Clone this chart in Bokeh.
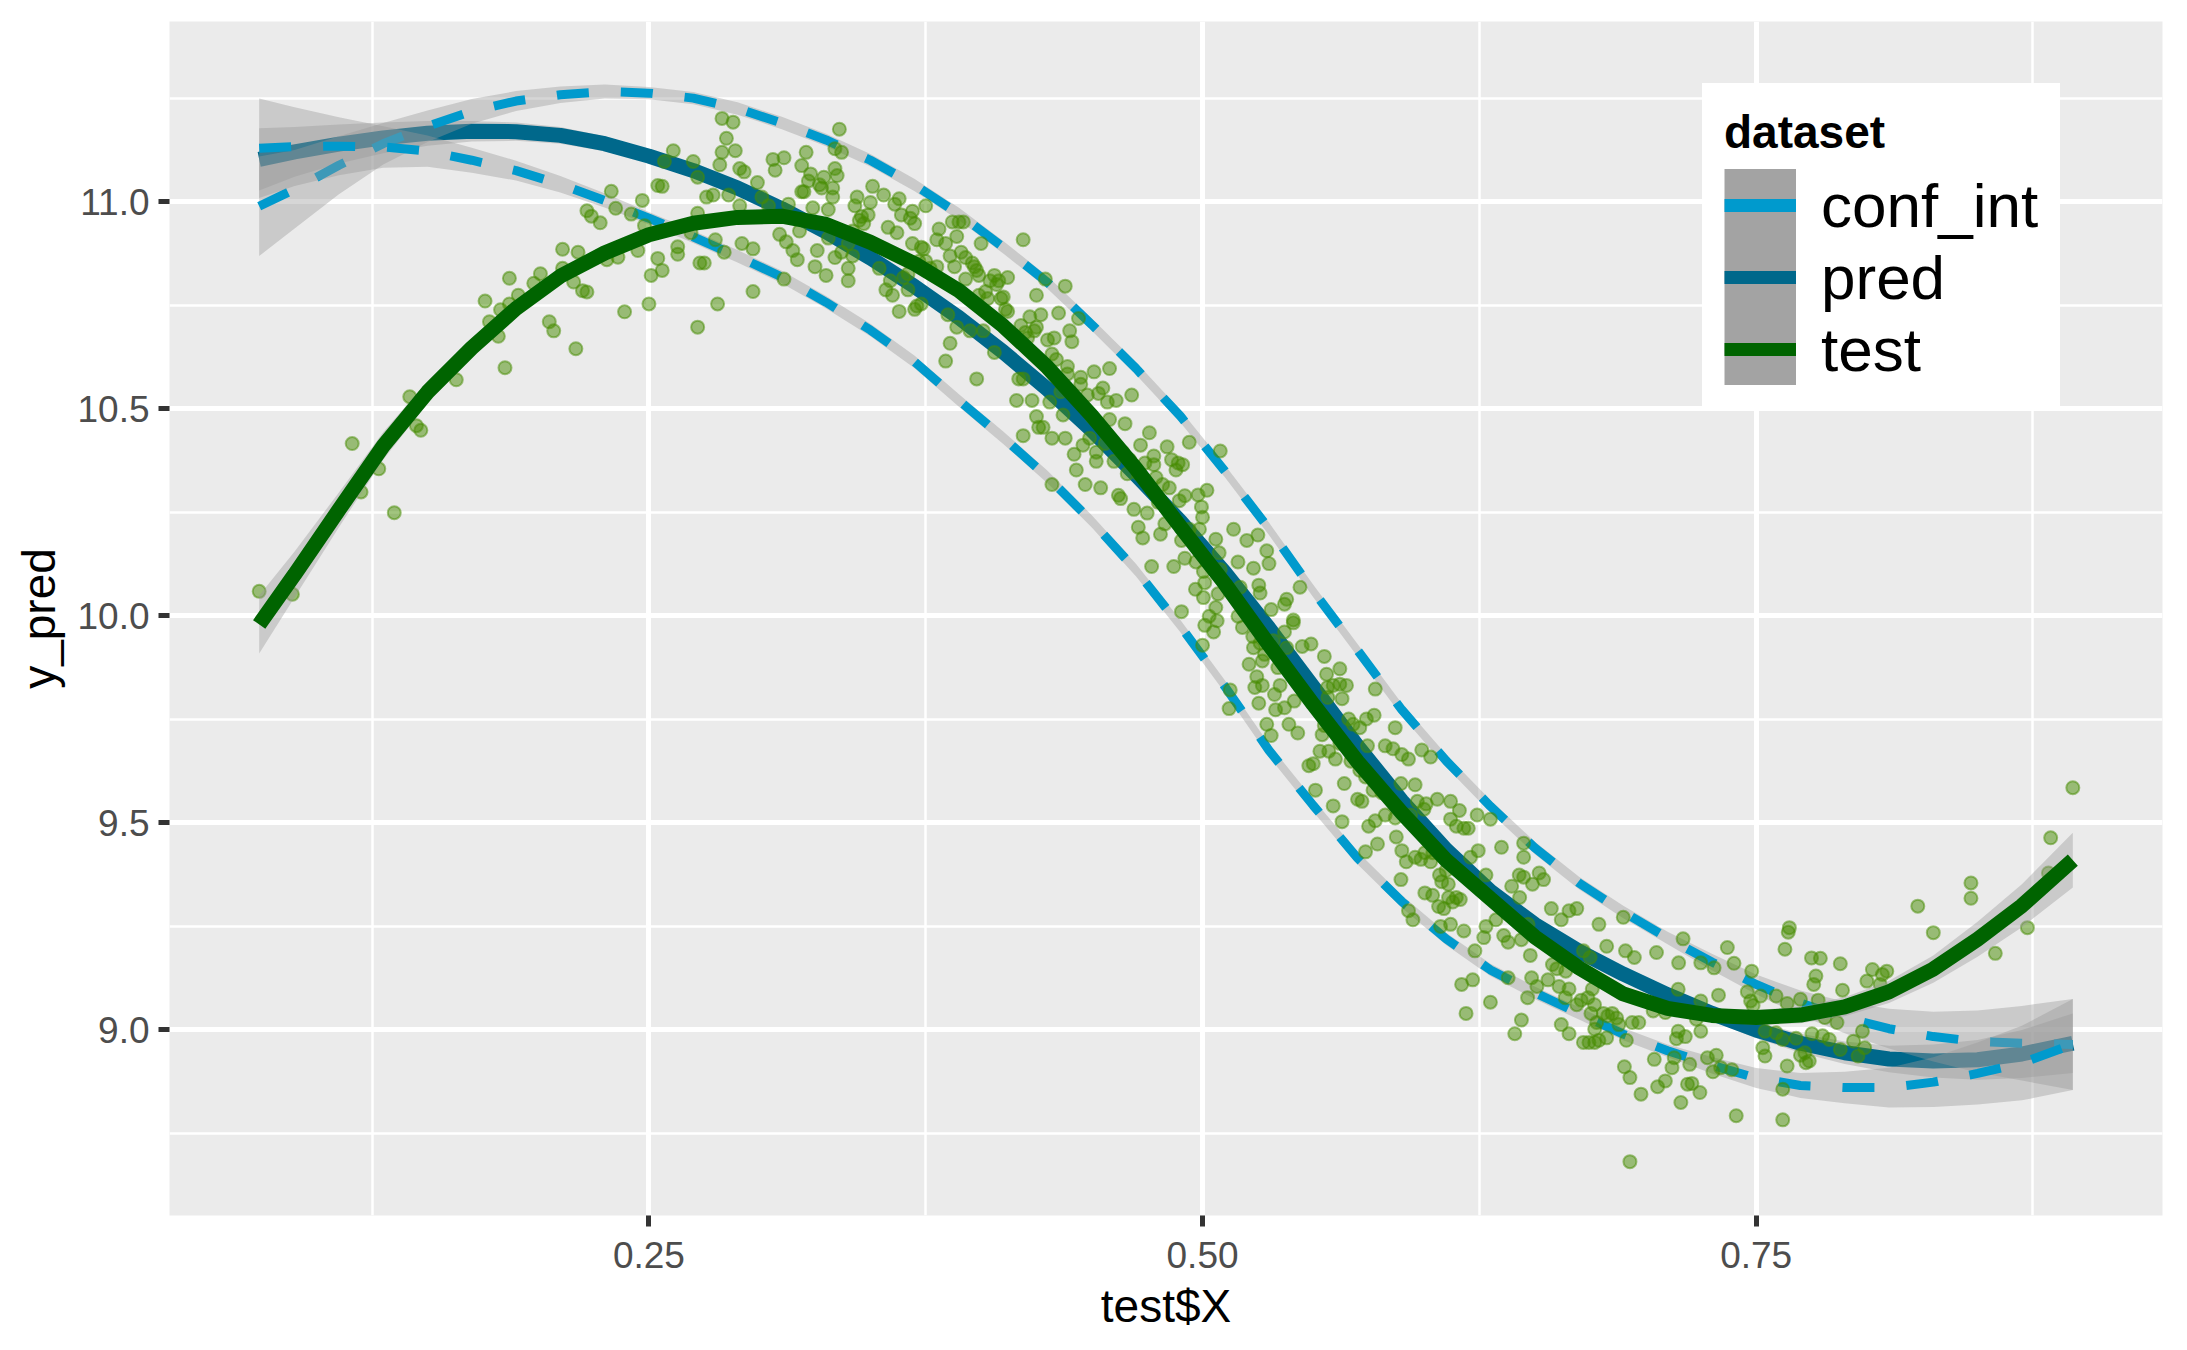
from bokeh.plotting import figure
from bokeh.models import Range1d, FixedTicker, NumeralTickFormatter, Legend, LegendItem
from bokeh.embed import file_html
from bokeh.resources import INLINE

# ---------------- data ----------------
grid_x = [0.074, 0.09, 0.11, 0.13, 0.15, 0.17, 0.19, 0.21, 0.23, 0.25, 0.27, 0.29, 0.31, 0.33,
          0.35, 0.37, 0.39, 0.41, 0.43, 0.45, 0.47, 0.49, 0.51, 0.53, 0.55, 0.57, 0.59, 0.61,
          0.63, 0.65, 0.67, 0.69, 0.71, 0.73, 0.75, 0.77, 0.79, 0.81, 0.83, 0.85, 0.87, 0.893]

test_fit = [9.979, 10.10, 10.256, 10.41, 10.54, 10.647, 10.742, 10.82, 10.876, 10.92, 10.948,
            10.962, 10.965, 10.945, 10.902, 10.85, 10.785, 10.70, 10.60, 10.483, 10.355, 10.215,
            10.078, 9.93, 9.786, 9.648, 9.524, 9.41, 9.317, 9.225, 9.15, 9.087, 9.052, 9.035,
            9.03, 9.036, 9.056, 9.092, 9.147, 9.219, 9.30, 9.41]

pred_fit = [11.102, 11.12, 11.139, 11.154, 11.165, 11.170, 11.169, 11.16, 11.14, 11.11, 11.075,
            11.033, 10.983, 10.927, 10.864, 10.795, 10.72, 10.637, 10.547, 10.448, 10.34, 10.228,
            10.105, 9.97, 9.828, 9.685, 9.553, 9.435, 9.335, 9.255, 9.19, 9.135, 9.085, 9.04,
            9.0, 8.968, 8.945, 8.93, 8.925, 8.928, 8.942, 8.968]

conf_upper = [10.989, 11.03, 11.088, 11.14, 11.182, 11.218, 11.243, 11.258, 11.266, 11.262, 11.25,
              11.225, 11.19, 11.149, 11.10, 11.04, 10.97, 10.89, 10.805, 10.703, 10.597, 10.482,
              10.35, 10.21, 10.06, 9.917, 9.773, 9.65, 9.54, 9.44, 9.355, 9.285, 9.222, 9.164,
              9.11, 9.065, 9.03, 9.003, 8.984, 8.972, 8.968, 8.965]

conf_lower = [11.129, 11.133, 11.134, 11.132, 11.122, 11.10, 11.075, 11.042, 11.003, 10.96, 10.915,
              10.868, 10.818, 10.757, 10.69, 10.613, 10.52, 10.43, 10.335, 10.228, 10.11, 9.975,
              9.83, 9.675, 9.542, 9.415, 9.31, 9.22, 9.145, 9.09, 9.04, 8.99, 8.95, 8.915,
              8.884, 8.866, 8.861, 8.861, 8.874, 8.895, 8.92, 8.965]

# half widths of the grey standard-error ribbons
test_se = [0.070, 0.055, 0.042, 0.033, 0.027, 0.023, 0.020, 0.018, 0.017] + [0.014] * 24 + \
          [0.016, 0.018, 0.020, 0.023, 0.027, 0.033, 0.042, 0.052, 0.066]
pred_se = [0.075, 0.060, 0.047, 0.037, 0.030, 0.025, 0.022, 0.020, 0.018] + [0.014] * 24 + \
          [0.018, 0.020, 0.023, 0.027, 0.032, 0.040, 0.048, 0.058, 0.072]
conf_se = [0.120, 0.095, 0.070, 0.050, 0.038, 0.030, 0.024, 0.020, 0.017] + [0.015] * 24 + \
          [0.020, 0.024, 0.030, 0.038, 0.048, 0.060, 0.075, 0.090, 0.110]

# observed test points (X, y)
test_points = [
    (0.074, 10.059), (0.089, 10.052), (0.116, 10.416), (0.120, 10.299), (0.128, 10.355), (0.135, 10.249),
    (0.142, 10.529), (0.145, 10.459), (0.147, 10.448), (0.163, 10.570), (0.176, 10.760), (0.178, 10.710),
    (0.182, 10.675), (0.183, 10.739), (0.185, 10.599), (0.187, 10.753), (0.187, 10.815), (0.191, 10.774),
    (0.198, 10.803), (0.201, 10.826), (0.205, 10.710), (0.207, 10.688), (0.211, 10.885), (0.211, 10.839),
    (0.216, 10.806), (0.217, 10.645), (0.218, 10.878), (0.220, 10.785), (0.222, 10.782), (0.222, 10.978),
    (0.224, 10.965), (0.228, 10.949), (0.231, 10.860), (0.233, 11.025), (0.235, 10.984), (0.236, 10.866),
    (0.239, 10.734), (0.242, 10.970),
    (0.247, 11.003), (0.248, 10.942), (0.245, 10.882), (0.250, 10.753), (0.251, 10.822), (0.254, 10.863),
    (0.254, 11.039), (0.256, 11.037), (0.256, 10.834), (0.257, 11.097), (0.261, 11.123), (0.263, 10.891),
    (0.263, 10.873), (0.269, 10.925), (0.270, 11.097), (0.272, 11.059), (0.272, 10.972), (0.272, 10.697),
    (0.273, 10.852), (0.275, 10.852), (0.276, 11.011), (0.279, 11.016), (0.280, 10.908), (0.281, 10.753),
    (0.282, 11.089), (0.283, 11.119), (0.283, 11.201), (0.284, 10.878), (0.285, 11.153), (0.286, 11.016),
    (0.288, 11.192), (0.289, 11.123), (0.291, 11.080), (0.291, 10.990), (0.293, 11.072), (0.292, 10.899),
    (0.297, 10.886), (0.297, 10.783), (0.299, 11.046), (0.301, 11.011), (0.304, 10.990), (0.306, 11.102),
    (0.307, 11.076), (0.309, 10.921), (0.311, 11.106), (0.311, 10.813), (0.312, 10.903), (0.313, 10.994),
    (0.315, 10.882), (0.317, 10.860), (0.318, 10.929), (0.319, 11.087), (0.319, 11.024), (0.320, 11.024),
    (0.321, 11.119), (0.322, 11.050), (0.323, 11.067), (0.324, 10.985), (0.325, 10.843), (0.326, 10.882),
    (0.327, 11.041), (0.328, 11.033), (0.329, 11.059), (0.330, 10.822), (0.331, 10.912), (0.331, 10.981),
    (0.333, 11.011), (0.333, 11.033), (0.334, 11.080), (0.334, 11.128), (0.334, 10.865), (0.335, 11.063),
    (0.336, 11.175), (0.337, 11.119), (0.337, 10.878), (0.340, 10.899), (0.340, 10.809), (0.340, 10.839),
    (0.342, 10.869), (0.342, 10.929), (0.343, 10.990), (0.344, 11.011), (0.345, 10.955), (0.346, 10.964),
    (0.347, 10.947), (0.349, 10.968), (0.350, 10.998), (0.351, 11.037), (0.354, 10.839), (0.356, 11.016),
    (0.357, 10.787), (0.358, 10.938), (0.359, 10.809), (0.360, 10.774), (0.361, 10.994), (0.362, 10.925),
    (0.363, 10.735), (0.363, 11.007), (0.364, 10.968), (0.365, 10.817), (0.367, 10.826), (0.367, 10.787),
    (0.368, 10.960), (0.369, 10.977), (0.369, 10.899), (0.370, 10.947), (0.370, 10.740), (0.371, 10.748),
    (0.372, 10.856), (0.373, 10.890), (0.373, 10.753), (0.374, 10.886), (0.375, 10.990), (0.375, 10.856),
    (0.377, 10.839), (0.380, 10.908), (0.380, 10.843), (0.381, 10.934), (0.384, 10.899), (0.384, 10.615),
    (0.385, 10.727), (0.386, 10.658), (0.386, 10.869), (0.387, 10.951), (0.388, 10.843), (0.389, 10.697),
    (0.389, 10.916), (0.390, 10.951), (0.391, 10.878), (0.392, 10.951), (0.393, 10.813), (0.393, 10.865),
    (0.395, 10.688), (0.396, 10.852), (0.397, 10.843), (0.398, 10.834), (0.398, 10.572), (0.399, 10.822),
    (0.399, 10.774), (0.400, 10.899), (0.401, 10.688), (0.402, 10.783), (0.403, 10.766), (0.404, 10.809),
    (0.406, 10.636), (0.406, 10.822), (0.407, 10.800), (0.408, 10.809), (0.409, 10.766), (0.410, 10.770),
    (0.411, 10.740), (0.412, 10.735), (0.412, 10.817), (0.416, 10.520), (0.417, 10.572), (0.418, 10.701),
    (0.419, 10.572), (0.419, 10.435), (0.419, 10.908), (0.420, 10.684), (0.421, 10.671), (0.422, 10.722),
    (0.423, 10.520), (0.424, 10.688), (0.425, 10.481), (0.425, 10.697), (0.425, 10.774), (0.426, 10.455),
    (0.427, 10.727), (0.428, 10.455), (0.429, 10.813), (0.430, 10.666), (0.431, 10.516), (0.432, 10.632),
    (0.432, 10.317), (0.432, 10.429), (0.433, 10.671), (0.434, 10.619), (0.435, 10.731), (0.436, 10.541),
    (0.437, 10.485), (0.438, 10.429), (0.438, 10.796), (0.439, 10.602), (0.439, 10.584), (0.440, 10.688),
    (0.441, 10.662), (0.442, 10.390), (0.443, 10.352), (0.444, 10.718), (0.445, 10.559), (0.445, 10.576),
    (0.446, 10.412), (0.447, 10.317), (0.448, 10.533), (0.449, 10.429), (0.450, 10.481), (0.451, 10.589),
    (0.452, 10.373), (0.452, 10.395), (0.453, 10.537), (0.454, 10.309), (0.455, 10.550), (0.456, 10.416),
    (0.457, 10.516), (0.458, 10.597), (0.458, 10.474), (0.460, 10.373), (0.461, 10.520), (0.462, 10.291),
    (0.463, 10.283), (0.464, 10.395), (0.465, 10.464), (0.466, 10.343), (0.467, 10.377), (0.468, 10.533),
    (0.469, 10.257), (0.471, 10.343), (0.471, 10.214), (0.472, 10.412), (0.473, 10.188), (0.474, 10.369),
    (0.475, 10.248), (0.476, 10.442), (0.477, 10.119), (0.478, 10.386), (0.478, 10.365), (0.479, 10.334),
    (0.480, 10.274), (0.481, 10.197), (0.482, 10.317), (0.483, 10.222), (0.484, 10.408), (0.485, 10.309),
    (0.486, 10.377), (0.487, 10.119), (0.488, 10.352), (0.489, 10.369), (0.4895, 10.278),
    (0.494, 10.419), (0.508, 10.398), (0.491, 10.365), (0.492, 10.290), (0.498, 10.292), (0.4995, 10.263),
    (0.502, 10.303), (0.500, 10.238), (0.494, 10.209), (0.514, 10.209), (0.4986, 10.209), (0.4905, 10.182),
    (0.506, 10.185), (0.520, 10.182), (0.525, 10.195), (0.492, 10.139), (0.497, 10.130), (0.5075, 10.152),
    (0.529, 10.157), (0.530, 10.126), (0.516, 10.130), (0.5004, 10.107), (0.508, 10.112), (0.523, 10.115),
    (0.501, 10.080), (0.517, 10.069), (0.5254, 10.074), (0.544, 10.069), (0.4968, 10.064), (0.507, 10.053),
    (0.526, 10.055), (0.538, 10.040), (0.5004, 10.044), (0.4905, 10.010), (0.506, 10.020), (0.531, 10.015),
    (0.537, 10.028), (0.503, 9.999), (0.516, 9.999), (0.541, 9.990), (0.501, 9.977), (0.5066, 9.988),
    (0.518, 9.972), (0.537, 9.961), (0.541, 9.983), (0.505, 9.961), (0.500, 9.929), (0.5227, 9.950),
    (0.526, 9.934), (0.532, 9.940), (0.545, 9.926), (0.549, 9.932), (0.523, 9.923), (0.528, 9.907),
    (0.538, 9.923), (0.521, 9.883), (0.527, 9.891), (0.534, 9.875), (0.555, 9.902), (0.5125, 9.821),
    (0.5245, 9.853), (0.527, 9.832), (0.535, 9.832), (0.556, 9.859), (0.5564, 9.827), (0.562, 9.872),
    (0.5236, 9.827), (0.5325, 9.810), (0.512, 9.776), (0.5254, 9.789), (0.537, 9.778), (0.5414, 9.794),
    (0.5566, 9.803), (0.559, 9.832), (0.562, 9.835), (0.565, 9.832), (0.563, 9.800), (0.578, 9.823),
    (0.533, 9.773), (0.539, 9.738), (0.543, 9.717), (0.529, 9.738), (0.531, 9.711), (0.554, 9.713),
    (0.555, 9.735), (0.568, 9.738), (0.566, 9.751), (0.571, 9.730), (0.574, 9.751), (0.5775, 9.760),
    (0.587, 9.730), (0.553, 9.673), (0.557, 9.673), (0.560, 9.654), (0.548, 9.638), (0.550, 9.643),
    (0.5620, 9.692), (0.567, 9.649), (0.571, 9.627), (0.5745, 9.686), (0.5825, 9.686), (0.586, 9.679),
    (0.590, 9.665), (0.593, 9.654), (0.599, 9.676), (0.603, 9.659), (0.551, 9.579), (0.564, 9.595),
    (0.570, 9.557), (0.5736, 9.611), (0.577, 9.579), (0.581, 9.573), (0.5896, 9.595), (0.596, 9.592),
    (0.597, 9.552), (0.601, 9.546), (0.606, 9.557), (0.572, 9.552), (0.559, 9.541), (0.563, 9.503),
    (0.575, 9.492), (0.578, 9.505), (0.5825, 9.519), (0.587, 9.512), (0.594, 9.519), (0.600, 9.533),
    (0.612, 9.552), (0.616, 9.530), (0.6120, 9.509), (0.6146, 9.492), (0.618, 9.487), (0.620, 9.487),
    (0.624, 9.519), (0.630, 9.509), (0.635, 9.441), (0.645, 9.451), (0.645, 9.417), (0.579, 9.449),
    (0.5736, 9.430), (0.5875, 9.466), (0.590, 9.433), (0.592, 9.406), (0.596, 9.417), (0.5986, 9.412),
    (0.6004, 9.428), (0.603, 9.406), (0.604, 9.428), (0.607, 9.374), (0.608, 9.358), (0.611, 9.352),
    (0.610, 9.385), (0.6146, 9.320), (0.613, 9.309), (0.621, 9.417), (0.6245, 9.433), (0.628, 9.374),
    (0.643, 9.374), (0.6450, 9.369), (0.649, 9.352), (0.652, 9.379), (0.654, 9.363), (0.5896, 9.363),
    (0.593, 9.288), (0.595, 9.266), (0.6004, 9.331), (0.6039, 9.325), (0.6066, 9.298), (0.609, 9.293),
    (0.6111, 9.320), (0.6164, 9.315), (0.6075, 9.250), (0.612, 9.255), (0.618, 9.239), (0.623, 9.191),
    (0.627, 9.223), (0.628, 9.250), (0.6325, 9.266), (0.636, 9.228), (0.638, 9.212), (0.6396, 9.347),
    (0.6432, 9.320), (0.644, 9.218), (0.6379, 9.282), (0.647, 9.255), (0.6575, 9.293), (0.662, 9.266),
    (0.6655, 9.288), (0.669, 9.293), (0.617, 9.110), (0.622, 9.121), (0.619, 9.040), (0.630, 9.067),
    (0.638, 9.126), (0.648, 9.180), (0.6486, 9.126), (0.6468, 9.078), (0.651, 9.105), (0.656, 9.121),
    (0.658, 9.158), (0.660, 9.148), (0.664, 9.142), (0.661, 9.105), (0.6655, 9.099), (0.672, 9.191),
    (0.675, 9.175), (0.679, 9.255), (0.6825, 9.202), (0.690, 9.272), (0.691, 9.191), (0.695, 9.175),
    (0.644, 9.024), (0.641, 8.991), (0.662, 9.013), (0.6655, 8.991), (0.6638, 9.078), (0.669, 9.061),
    (0.671, 9.072), (0.674, 9.078), (0.676, 9.099), (0.677, 9.061), (0.6754, 9.040), (0.678, 9.018),
    (0.681, 9.040), (0.683, 9.034), (0.685, 9.040), (0.687, 9.029), (0.688, 9.013), (0.6771, 9.002),
    (0.6825, 8.981), (0.6745, 8.970), (0.679, 8.975), (0.672, 8.970), (0.6771, 8.970), (0.6914, 8.975),
    (0.694, 9.018), (0.697, 9.018), (0.6905, 8.911),
    (0.883, 9.464), (0.882, 9.379), (0.847, 9.355), (0.847, 9.318), (0.823, 9.299), (0.830, 9.235),
    (0.8725, 9.247), (0.858, 9.185), (0.765, 9.247), (0.7645, 9.236), (0.763, 9.195), (0.737, 9.199),
    (0.775, 9.174), (0.779, 9.173), (0.788, 9.160), (0.717, 9.220), (0.705, 9.187), (0.715, 9.162),
    (0.725, 9.162), (0.740, 9.161), (0.731, 9.150), (0.748, 9.142), (0.8025, 9.146), (0.809, 9.142),
    (0.807, 9.134), (0.800, 9.118), (0.806, 9.110), (0.777, 9.130), (0.776, 9.110), (0.789, 9.096),
    (0.7148, 9.098), (0.733, 9.084), (0.746, 9.092), (0.752, 9.082), (0.7475, 9.070), (0.7486, 9.059),
    (0.759, 9.082), (0.764, 9.064), (0.770, 9.074), (0.778, 9.072), (0.725, 9.070), (0.709, 9.042),
    (0.7035, 9.046), (0.723, 9.026), (0.781, 9.030), (0.7865, 9.018), (0.754, 8.997), (0.759, 8.993),
    (0.7148, 8.997), (0.718, 8.984), (0.7250, 8.997), (0.7752, 8.991), (0.780, 8.986), (0.768, 8.980),
    (0.798, 8.997), (0.794, 8.973), (0.799, 8.957), (0.714, 8.979), (0.762, 8.977), (0.783, 8.977),
    (0.788, 8.953), (0.796, 8.937), (0.753, 8.957), (0.754, 8.937), (0.770, 8.939), (0.772, 8.945),
    (0.7725, 8.921), (0.774, 8.925), (0.764, 8.913), (0.728, 8.933), (0.732, 8.939), (0.739, 8.904),
    (0.734, 8.909), (0.7305, 8.899), (0.720, 8.917), (0.713, 8.933), (0.712, 8.909), (0.704, 8.929),
    (0.762, 8.857), (0.719, 8.869), (0.721, 8.871), (0.7246, 8.849), (0.716, 8.825), (0.709, 8.877),
    (0.7055, 8.863), (0.741, 8.793), (0.762, 8.783), (0.698, 8.845), (0.693, 8.682), (0.693, 8.885),
    (0.893, 9.585),
]
point_x = [pt[0] for pt in test_points]
point_y = [pt[1] for pt in test_points]

x_ticks = [0.25, 0.50, 0.75]
y_ticks = [9.0, 9.5, 10.0, 10.5, 11.0]
legend_labels = ["conf_int", "pred", "test"]

# ---------------- styling ----------------
C_CONF = "#009ACD"
C_PRED = "#00688B"
C_TEST = "#006400"
C_PTS = "#458B00"
FONT = "Liberation Sans"


def band(center, half):
    return [c - h for c, h in zip(center, half)], [c + h for c, h in zip(center, half)]


p = figure(width=2171, height=1334, output_backend="svg", toolbar_location=None,
           x_range=Range1d(0.0335, 0.9335), y_range=Range1d(8.552, 11.435),
           min_border_left=169, min_border_right=9, min_border_top=21, min_border_bottom=118,
           background_fill_color="#EBEBEB", border_fill_color="white", outline_line_color=None)

# grid
for g in (p.xgrid, p.ygrid):
    g.grid_line_color = "white"
    g.grid_line_width = 5
    g.minor_grid_line_color = "white"
    g.minor_grid_line_width = 2.5

p.xaxis.ticker = FixedTicker(ticks=x_ticks, minor_ticks=[0.125, 0.375, 0.625, 0.875])
p.yaxis.ticker = FixedTicker(ticks=y_ticks, minor_ticks=[8.75, 9.25, 9.75, 10.25, 10.75, 11.25])
p.xaxis.formatter = NumeralTickFormatter(format="0.00")
p.yaxis.formatter = NumeralTickFormatter(format="0.0")
for ax in (p.xaxis, p.yaxis):
    ax.axis_line_color = None
    ax.major_tick_line_color = "#333333"
    ax.major_tick_line_width = 5
    ax.major_tick_in = 0
    ax.major_tick_out = 11
    ax.minor_tick_line_color = None
    ax.major_label_text_font = FONT
    ax.major_label_text_font_size = "37px"
    ax.major_label_text_color = "#4D4D4D"
    ax.axis_label_text_font = FONT
    ax.axis_label_text_font_size = "46px"
    ax.axis_label_text_font_style = "normal"
    ax.axis_label_text_color = "black"
p.xaxis.major_label_standoff = 15
p.yaxis.major_label_standoff = 9
p.xaxis.axis_label = "test$X"
p.yaxis.axis_label = "y_pred"
p.xaxis.axis_label_standoff = 9
p.yaxis.axis_label_standoff = 9

RIB = dict(fill_color="#999999", fill_alpha=0.4)

# pred smooth
lo, hi = band(pred_fit, pred_se)
p.varea(x=grid_x, y1=lo, y2=hi, **RIB)
p.line(grid_x, pred_fit, line_color=C_PRED, line_width=15)

# confidence bounds (dashed)
lo, hi = band(conf_upper, conf_se)
p.varea(x=grid_x, y1=lo, y2=hi, **RIB)
p.line(grid_x, conf_upper, line_color=C_CONF, line_width=9, line_dash="32 32")
lo, hi = band(conf_lower, conf_se)
p.varea(x=grid_x, y1=lo, y2=hi, **RIB)
p.line(grid_x, conf_lower, line_color=C_CONF, line_width=9, line_dash="32 32")

# points
p.scatter(point_x, point_y, size=13, fill_color=C_PTS, fill_alpha=0.5,
          line_color=C_PTS, line_alpha=0.5, line_width=2)

# test smooth
lo, hi = band(test_fit, test_se)
p.varea(x=grid_x, y1=lo, y2=hi, **RIB)
p.line(grid_x, test_fit, line_color=C_TEST, line_width=15)

# legend keys: single-point lines (draw nothing in the plot, only legend swatches)
kx = grid_x[:1]
key_bg = p.line(x=kx, y=pred_fit[:1], line_color="#A3A3A3", line_width=74)
key_conf = p.line(x=kx, y=conf_upper[:1], line_color=C_CONF, line_width=13)
key_pred = p.line(x=kx, y=pred_fit[:1], line_color=C_PRED, line_width=13)
key_test = p.line(x=kx, y=test_fit[:1], line_color=C_TEST, line_width=13)

legend = Legend(items=[LegendItem(label=legend_labels[0], renderers=[key_bg, key_conf]),
                       LegendItem(label=legend_labels[1], renderers=[key_bg, key_pred]),
                       LegendItem(label=legend_labels[2], renderers=[key_bg, key_test])],
                location=(1533, 808), title="dataset",
                title_text_font=FONT, title_text_font_size="46px", title_text_font_style="bold",
                title_text_color="black", title_standoff=10,
                label_text_font=FONT, label_text_font_size="62px", label_text_color="black",
                glyph_width=72, glyph_height=72, label_height=72, label_standoff=25,
                spacing=0, padding=21, margin=0,
                background_fill_color="white", background_fill_alpha=1.0,
                border_line_color="white", border_line_width=1)
p.add_layout(legend)

open("out.html", "w").write(file_html(p, INLINE, title="plot"))
